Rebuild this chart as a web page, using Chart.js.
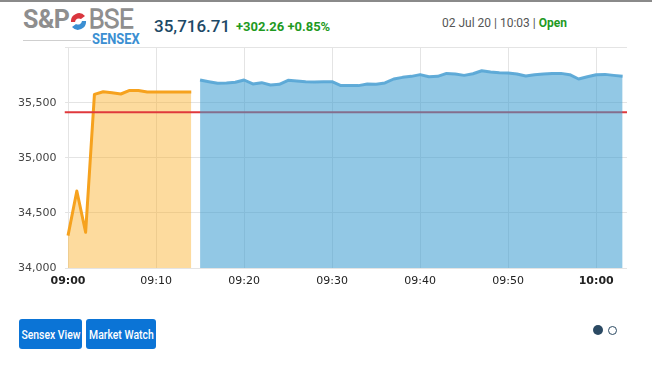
<!DOCTYPE html>
<html>
<head>
<meta charset="utf-8">
<script src="https://cdn.jsdelivr.net/npm/chart.js@4.4.0/dist/chart.umd.min.js"></script>
<style>
  body { margin: 0; width: 652px; height: 371px; background: #fff; overflow: hidden; position: relative; font-family: Roboto, sans-serif; }
  .topbar { position: absolute; left: 0; top: 0; width: 652px; height: 2px; background: #8a8a8a; }
  .abs { position: absolute; white-space: nowrap; }
  .sp { left: 23px; top: 5px; font-size: 25px; font-weight: bold; color: #8e8e8e; letter-spacing: -0.5px; }
  .bse { left: 89px; top: 5px; font-size: 25px; font-weight: 300; color: transparent; -webkit-text-stroke: 1.4px #8e8e8e; }
  .sensex { left: 92px; top: 30px; font-size: 15px; font-weight: bold; color: #3b8fd2; transform: scaleX(0.86); transform-origin: left top; }
  .logoline { left: 23px; top: 40px; width: 68px; height: 1px; background: #cfcfcf; }
  .price { left: 154px; top: 16px; font-size: 17px; font-weight: 500; color: #1d4966; }
  .chg { left: 236px; top: 19px; font-size: 13px; font-weight: bold; color: #1f9a1f; }
  .stamp { left: 442px; top: 16px; font-size: 12px; color: #555; }
  .stamp b { color: #1f9a1f; }
  .btn { top: 319px; height: 30px; background: #0b74d6; color: #fff; border-radius: 3px; font-size: 13px; font-weight: 500;
         display: flex; align-items: center; justify-content: center; overflow: visible; }
  .btn span { display: inline-block; transform: scaleX(0.8); transform-origin: center; }
  .dot { width: 10px; height: 10px; border-radius: 50%; top: 325px; box-sizing: border-box; }
  canvas { position: absolute; left: 0; top: 33px; }
</style>
</head>
<body>
<div class="topbar"></div>
<div class="abs sp">S&amp;P</div>
<svg class="abs" style="left:68px;top:12px" width="21" height="19" viewBox="0 0 21 19">
  <path d="M3 10 A8 8 0 0 1 17 4 L13 7 A4 4 0 0 0 7 10 Z" fill="#d9363e"/>
  <path d="M18 9 A8 8 0 0 1 4 15 L8 12 A4 4 0 0 0 14 9 Z" fill="#3b8fd2"/>
</svg>
<div class="abs bse">BSE</div>
<div class="abs logoline"></div>
<div class="abs sensex">SENSEX</div>
<div class="abs price">35,716.71</div>
<div class="abs chg">+302.26 +0.85%</div>
<div class="abs stamp">02 Jul 20 | 10:03 | <b>Open</b></div>

<canvas id="sensexChart" width="652" height="265"></canvas>

<div class="abs btn" style="left:19px;width:63px"><span>Sensex View</span></div>
<div class="abs btn" style="left:86px;width:70px"><span>Market Watch</span></div>
<div class="abs dot" style="left:593px;background:#2b4a63"></div>
<div class="abs dot" style="left:608px;border:1.5px solid #2b4a63;width:9px;height:9px;top:325.5px"></div>

<script>
// pre-open session (09:00 - 09:14)
const preOpenTimes = ['09:00', '09:01', '09:02', '09:03', '09:04', '09:05', '09:06', '09:07',
  '09:08', '09:09', '09:10', '09:11', '09:12', '09:13', '09:14'];
const preOpenValues = [34294, 34699, 34324, 35575, 35599, 35590, 35579, 35611,
  35611, 35597, 35597, 35597, 35597, 35597, 35597];

// normal session (09:15 - 10:03)
const sessionTimes = ['09:15', '09:16', '09:17', '09:18', '09:19', '09:20', '09:21', '09:22',
  '09:23', '09:24', '09:25', '09:26', '09:27', '09:28', '09:29', '09:30', '09:31', '09:32',
  '09:33', '09:34', '09:35', '09:36', '09:37', '09:38', '09:39', '09:40', '09:41', '09:42',
  '09:43', '09:44', '09:45', '09:46', '09:47', '09:48', '09:49', '09:50', '09:51', '09:52',
  '09:53', '09:54', '09:55', '09:56', '09:57', '09:58', '09:59', '10:00', '10:01', '10:02', '10:03'];
const sessionValues = [35706, 35691, 35676, 35679, 35685, 35706, 35670, 35682,
  35661, 35667, 35703, 35697, 35691, 35688, 35691, 35691, 35655, 35655,
  35655, 35670, 35667, 35679, 35715, 35730, 35739, 35755, 35736, 35739,
  35766, 35760, 35748, 35763, 35790, 35778, 35772, 35769, 35760, 35742,
  35754, 35760, 35766, 35766, 35754, 35715, 35736, 35754, 35757, 35748, 35739];

const prevClose = 35414.45;
const yTicks = [34000, 34500, 35000, 35500, 36000];
const xTickLabels = ['09:00', '09:10', '09:20', '09:30', '09:40', '09:50', '10:00'];

const START = 9 * 60;
function toMin(t) {
  const p = t.split(':');
  return parseInt(p[0], 10) * 60 + parseInt(p[1], 10) - START;
}
function toLabel(m) {
  const h = Math.floor((m + START) / 60), mm = (m + START) % 60;
  return String(h).padStart(2, '0') + ':' + String(mm).padStart(2, '0');
}
function pts(times, values) {
  return times.map((t, i) => ({ x: toMin(t), y: values[i] }));
}

const xMin = -0.4, xMax = 63.5;
const tickFamily = '"DejaVu Sans", Verdana, sans-serif';

const ctx = document.getElementById('sensexChart').getContext('2d');
new Chart(ctx, {
  type: 'line',
  data: {
    datasets: [
      {
        label: 'Session',
        data: pts(sessionTimes, sessionValues),
        borderColor: 'rgba(90, 168, 214, 0.95)',
        backgroundColor: 'rgba(56, 155, 208, 0.55)',
        borderWidth: 3,
        fill: 'start',
        order: 0
      },
      {
        label: 'Previous close',
        data: [{ x: xMin, y: prevClose }, { x: xMax, y: prevClose }],
        borderColor: '#e0393c',
        borderWidth: 2,
        fill: false,
        order: 1
      },
      {
        label: 'Pre-open',
        data: pts(preOpenTimes, preOpenValues),
        borderColor: '#f6a21e',
        backgroundColor: 'rgba(251, 175, 40, 0.45)',
        borderWidth: 3,
        fill: 'start',
        order: 2
      }
    ]
  },
  options: {
    responsive: false,
    animation: false,
    layout: { padding: { top: 0, right: 25, left: 0, bottom: 0 } },
    elements: {
      point: { radius: 0 },
      line: { tension: 0, borderJoinStyle: 'round' }
    },
    plugins: {
      legend: { display: false },
      tooltip: { enabled: false }
    },
    scales: {
      x: {
        type: 'linear',
        min: xMin,
        max: xMax,
        afterBuildTicks: (scale) => {
          scale.ticks = xTickLabels.map(t => ({ value: toMin(t) }));
        },
        afterFit: (scale) => { scale.height = 30; },
        grid: { color: '#e4e4e4', drawTicks: false },
        border: { display: false },
        ticks: {
          padding: 7,
          color: '#222',
          maxRotation: 0,
          autoSkip: false,
          callback: (v) => toLabel(v),
          font: (c) => ({
            family: tickFamily,
            size: 11,
            weight: c.tick && c.tick.value % 60 === 0 ? 'bold' : 'normal'
          })
        }
      },
      y: {
        min: 34000,
        max: 36000,
        afterBuildTicks: (scale) => {
          scale.ticks = yTicks.map(v => ({ value: v }));
        },
        afterFit: (scale) => { scale.width = 64.5; },
        grid: { color: '#e4e4e4', drawTicks: false },
        border: { display: false },
        ticks: {
          padding: 8,
          color: '#444',
          font: { family: tickFamily, size: 11 },
          callback: (v) => v === 36000 ? '' : v.toLocaleString('en-US')
        }
      }
    }
  }
});
</script>
</body>
</html>
